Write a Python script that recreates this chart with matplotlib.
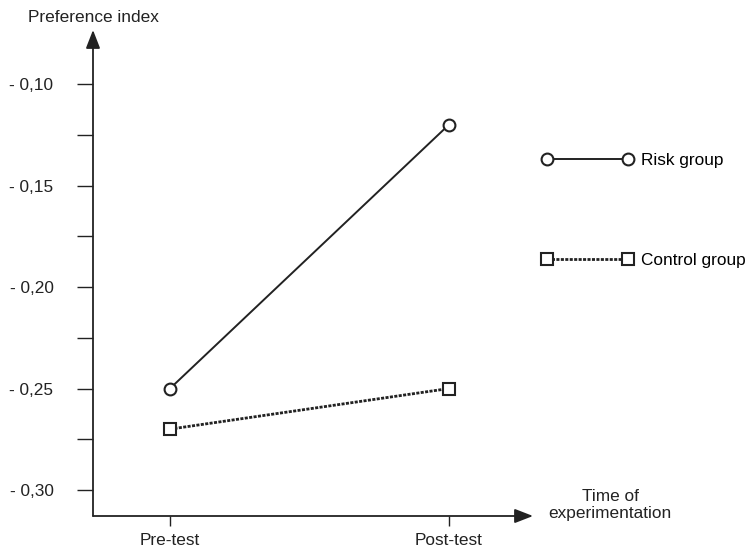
import matplotlib
matplotlib.use("Agg")
import matplotlib.pyplot as plt

# Donnees
temps = ["Pre-test", "Post-test"]
x_pos = [0, 1]
risk_group = [-0.25, -0.12]
control_group = [-0.27, -0.25]
y_ticks = [-0.30, -0.25, -0.20, -0.15, -0.10]
y_minor = [-0.275, -0.225, -0.175, -0.125]

plt.rcParams["font.family"] = ["Liberation Sans", "DejaVu Sans"]
plt.rcParams["font.size"] = 12.4
couleur = "#222222"

fig = plt.figure(figsize=(7.48, 5.52), dpi=100)
ax = fig.add_axes([93 / 748, 36 / 552, 440 / 748, 486 / 552])
ax.set_xlim(-0.276, 1.301)
ax.set_ylim(-0.3128, -0.0734)

for s in ax.spines.values():
    s.set_visible(False)

# Axes avec fleches
fleche = dict(arrowstyle="-|>,head_length=0.9,head_width=0.35", color=couleur,
              lw=1.3, shrinkA=0, shrinkB=0)
ax.annotate("", xy=(1, 0), xytext=(0, 0), xycoords="axes fraction",
            arrowprops=fleche, annotation_clip=False)
ax.annotate("", xy=(0, 1), xytext=(0, 0), xycoords="axes fraction",
            arrowprops=fleche, annotation_clip=False)

# Courbes
ax.plot(x_pos, risk_group, color=couleur, lw=1.4, marker="o", ms=8.5,
        mfc="white", mec=couleur, mew=1.5, label="Risk group", clip_on=False)
ax.plot(x_pos, control_group, color=couleur, lw=2.0, ls=(0, (1.1, 0.5)),
        marker="s", ms=8, mfc="white", mec=couleur, mew=1.5,
        label="Control group", clip_on=False)

# Graduations
ax.set_yticks(y_ticks)
ax.set_yticklabels(["- " + f"{abs(v):.2f}".replace(".", ",") for v in y_ticks])
ax.set_yticks(y_minor, minor=True)
ax.tick_params(axis="y", which="both", direction="out", length=11.5, width=1.0,
               color=couleur, pad=17, labelcolor=couleur)
ax.set_xticks(x_pos)
ax.set_xticklabels(temps)
ax.tick_params(axis="x", direction="out", length=7, width=1.0, color=couleur,
               pad=5, labelcolor=couleur)

# Titres des axes
fig.text(93.5 / 748, 1 - 18 / 552, "Preference index", ha="center",
         va="center", color=couleur)
fig.text(610 / 748, 1 - 505 / 552, "Time of\nexperimentation", ha="center",
         va="center", color=couleur, linespacing=1.15)

# Legende
ax.legend(loc="upper left", bbox_to_anchor=((542 - 93) / 440, (516 - 153) / 486),
          bbox_transform=ax.transAxes, frameon=False, numpoints=2,
          handlelength=5.3, handletextpad=0.45, labelspacing=4.95,
          borderpad=0, borderaxespad=0)

fig.savefig("out.png", dpi=100)
